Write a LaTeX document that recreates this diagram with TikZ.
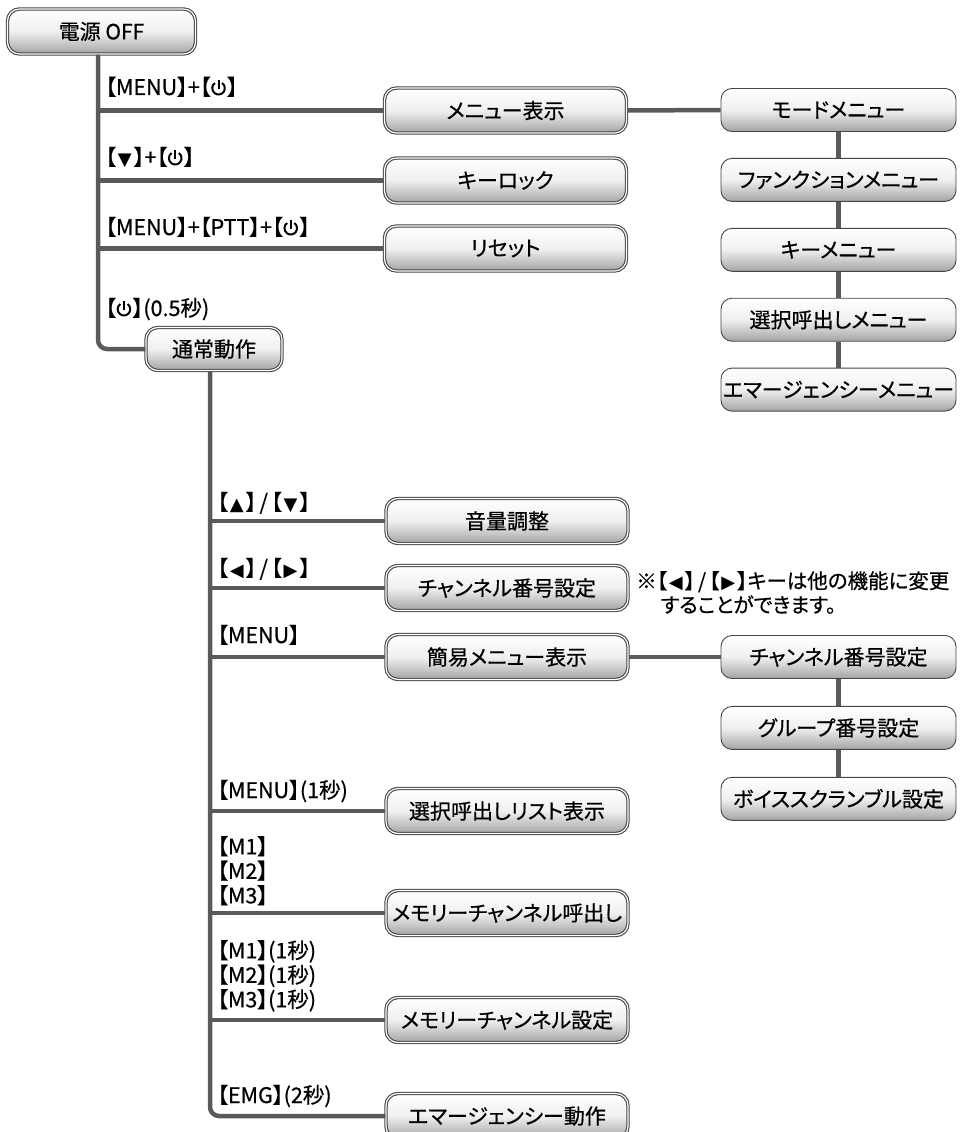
\documentclass[tikz,border=0pt]{standalone}
\usepackage{fontspec}
\setmainfont{Noto Sans CJK JP}[RawFeature=+palt, FakeBold=0.6]
\newfontfamily\symfont{DejaVu Sans}
\usepackage{tikz}
\usetikzlibrary{positioning}
\definecolor{edgegray}{HTML}{454545}
\definecolor{shadegray}{HTML}{A4A4A4}
\definecolor{linkgray}{HTML}{5A5A5A}
% power key glyph, drawn
\newcommand{\pwr}{\kern0.5pt\tikz[baseline=0pt, x=1pt, y=1pt, line width=2pt]{%
  \draw (0,6.8) ++(55:6.3) arc[start angle=55, end angle=-235, radius=6.3];
  \draw (0,6.2) -- (0,14.6);}\kern0.5pt}
\newcommand{\tri}[1]{\kern2pt{\symfont\fontsize{18}{18}\selectfont #1}\kern2pt}
\newcommand{\slsh}{\kern3pt/\kern3pt}

\begin{document}
\begin{tikzpicture}[x=1pt, y=-1pt,
  state/.style={draw=edgegray, line width=1.1pt, double=white, double distance=1.2pt,
    rounded corners=12pt, top color=white, bottom color=shadegray, middle color=black!6,
    minimum width=242pt, minimum height=45pt, inner sep=2pt, font=\fontsize{21}{21}\selectfont},
  sub/.style={draw=edgegray, line width=0.9pt, rounded corners=11pt,
    top color=white, bottom color=shadegray, middle color=black!6,
    minimum width=235pt, minimum height=43pt, inner sep=1pt, font=\fontsize{21}{21}\selectfont},
  link/.style={draw=linkgray, line width=4.5pt},
  key/.style={inner sep=0pt, font=\fontsize{21.5}{24.5}\selectfont, align=left},
]
  \useasboundingbox (0,0) rectangle (970,1132);
  \coordinate (t1) at (98,0);
  \coordinate (t2) at (210,0);

  % power-on states
  \node[state, minimum width=188pt] (off) at (101.5,31.5) {電源 OFF};
  \node[state] (menu) at (505.5,110.5) {メニュー表示};
  \node[state] (lock) at (505.5,180.5) {キーロック};
  \node[state] (reset) at (505.5,248.5) {リセット};
  \node[state, minimum width=136pt, minimum height=43pt] (normal) at (214,349) {通常動作};

  % menu list
  \node[sub] (mode) at (838.5,110) {モードメニュー};
  \node[sub, below=26pt of mode] (func) {ファンクションメニュー};
  \node[sub, below=26pt of func] (keym) {キーメニュー};
  \node[sub, below=26pt of keym] (selm) {選択呼出しメニュー};
  \node[sub, below=26pt of selm] (emgm) {エマージェンシーメニュー};

  % normal operation
  \node[state] (vol) at (507,521) {音量調整};
  \node[state] (chan) at (507,588) {チャンネル番号設定};
  \node[state] (easy) at (507,657) {簡易メニュー表示};
  \node[state] (list) at (507,811) {選択呼出しリスト表示};
  \node[state] (mcall) at (507,913) {メモリーチャンネル呼出し};
  \node[state] (mset) at (507,1020) {メモリーチャンネル設定};
  \node[state] (emg) at (507,1116) {エマージェンシー動作};

  \node[sub] (chset) at (838.5,657) {チャンネル番号設定};
  \node[sub, below=27pt of chset] (grpset) {グループ番号設定};
  \node[sub, below=27pt of grpset] (voice) {ボイススクランブル設定};

  % connectors
  \draw[link, rounded corners=9pt] (off.south -| t1) |- (normal.west);
  \foreach \n in {menu, lock, reset}
    \draw[link] (\n.west -| t1) -- (\n.west);
  \draw[link] (menu.east) -- (mode.west);
  \foreach \a/\b in {mode/func, func/keym, keym/selm, selm/emgm, chset/grpset, grpset/voice}
    \draw[link] (\a.south) -- (\b.north);
  \draw[link, rounded corners=9pt] (normal.south -| t2) |- (emg.west);
  \foreach \n in {vol, chan, easy, list, mcall, mset}
    \draw[link] (\n.west -| t2) -- (\n.west);
  \draw[link] (easy.east) -- (chset.west);

  % key labels
  \node[key, anchor=base west] (k1) at (105,95) {【MENU】+【\pwr】};
  \node[key, anchor=base west] (k2) at (105,165) {【\tri{▼}】+【\pwr】};
  \node[key, anchor=base west] (k3) at (105,235) {【MENU】+【PTT】+【\pwr】};
  \node[key, anchor=base west] (k4) at (105,316) {【\pwr】(0.5秒)};
  \node[key, anchor=base west] (k5) at (217,510) {【\tri{▲}】\slsh【\tri{▼}】};
  \node[key, anchor=base west] (k6) at (217,576) {【\tri{◀}】\slsh【\tri{▶}】};
  \node[key, anchor=base west] (k7) at (217,643) {【MENU】};
  \node[key, anchor=base west] (k8) at (217,798) {【MENU】(1秒)};
  \node[key, anchor=north west] (k9) at (217,836) {【M1】\\【M2】\\【M3】};
  \node[key, anchor=north west] (k10) at (217,940) {【M1】(1秒)\\【M2】(1秒)\\【M3】(1秒)};
  \node[key, anchor=base west] (k11) at (217,1103) {【EMG】(2秒)};

  \node[inner sep=0pt, anchor=north west, align=left, font=\fontsize{20.5}{24}\selectfont]
    (note) at (636,571) {※【\tri{◀}】\slsh【\tri{▶}】キーは他の機能に変更\\\hspace*{1.2em}することができます。};
\end{tikzpicture}
\end{document}
